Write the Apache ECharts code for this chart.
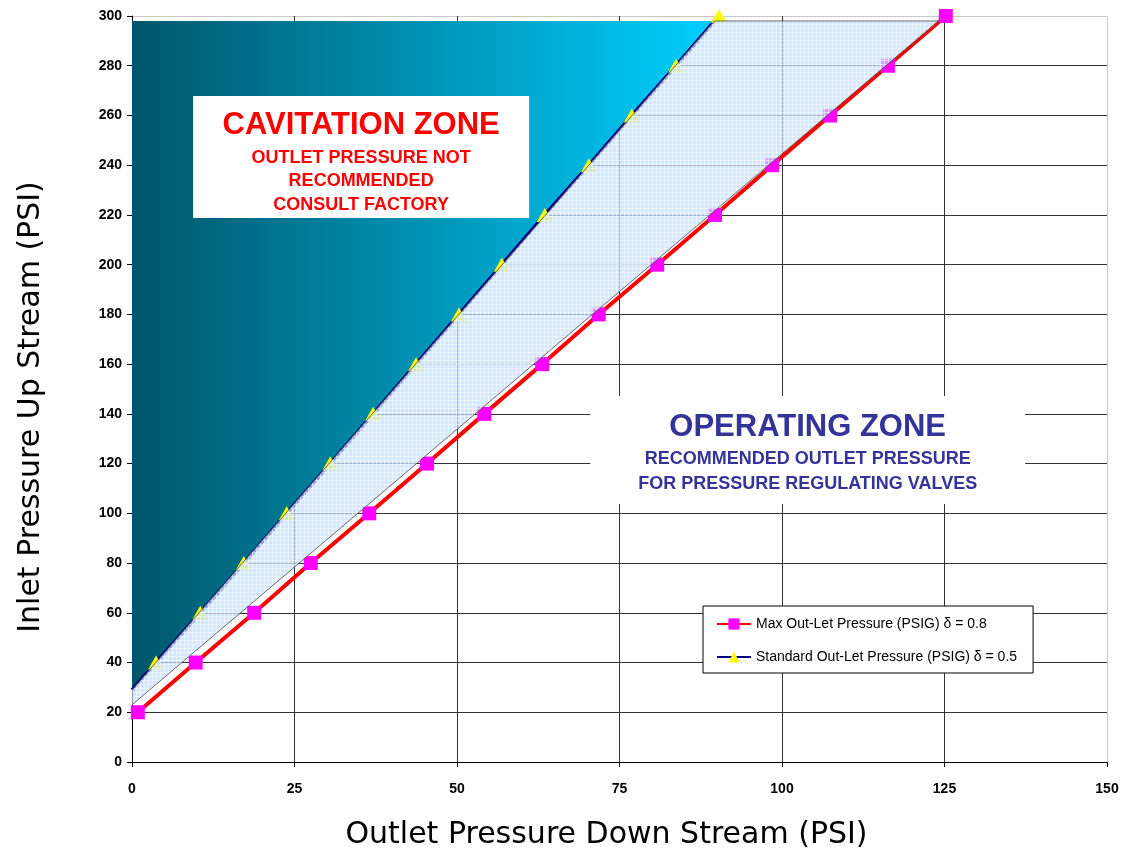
<!DOCTYPE html>
<html>
<head>
<meta charset="utf-8">
<script src="https://cdn.jsdelivr.net/npm/echarts@6/dist/echarts.min.js"></script>
<style>html,body{margin:0;padding:0;background:#fff}#c{width:1124px;height:849px}</style>
</head>
<body>
<div id="c"></div>
<script>
// ---- data ----
var maxOutlet = [[0.9,20],[9.8,40],[18.8,60],[27.5,80],[36.5,100],[45.4,120],[54.2,140],[63.1,160],[71.8,180],[80.8,200],[89.7,220],[98.5,240],[107.4,260],[116.3,280],[125.2,300]];
var stdStart = [0,29];
var stdOutlet = [[3.7,40],[10.5,60],[17.2,80],[23.8,100],[30.5,120],[37.1,140],[43.7,160],[50.3,180],[56.9,200],[63.5,220],[70.3,240],[76.9,260],[83.7,280],[90.3,300]];
var cavitationZone = [[0,29],[0,298],[89.6,298]];
var operatingZone = [[0,29],[89.6,298],[124.1,298],[0,23]];
var cavitationBox = [9.4,267.8,61.1,218.8];
var operatingBox = [70.5,147.2,137.4,103.8];
var cavitationText = ['CAVITATION ZONE','OUTLET PRESSURE NOT','RECOMMENDED','CONSULT FACTORY'];
var operatingText = ['OPERATING ZONE','RECOMMENDED OUTLET PRESSURE','FOR PRESSURE REGULATING VALVES'];
var seriesNames = ['Max Out-Let Pressure (PSIG) \u03b4 = 0.8','Standard Out-Let Pressure (PSIG) \u03b4 = 0.5'];

// pattern for operating zone
var pc = document.createElement('canvas');
pc.width = 4; pc.height = 4;
var pctx = pc.getContext('2d');
pctx.fillStyle = 'rgba(195,222,255,0.72)';
pctx.fillRect(0,0,4,4);
pctx.fillStyle = 'rgba(255,255,255,0.5)';
pctx.fillRect(0,0,4,1);
pctx.fillRect(0,0,1,4);

var chart = echarts.init(document.getElementById('c'));

function polySeries(verts, style, z){
  return {
    type:'custom', z:z, silent:true, clip:true,
    data:[[verts[0][0],verts[0][1]]],
    renderItem:function(params, api){
      var pts = verts.map(function(v){return api.coord(v);});
      return {type:'polygon', shape:{points:pts}, style:style};
    }
  };
}
function boxSeries(box, lines, color, offsets, sizes, z){
  return {
    type:'custom', z:z, silent:true,
    data:[box],
    renderItem:function(params, api){
      var p0 = api.coord([api.value(0), api.value(1)]);
      var p1 = api.coord([api.value(2), api.value(3)]);
      var cx = (p0[0]+p1[0])/2, cy = (p0[1]+p1[1])/2;
      var children = [{type:'rect', shape:{x:p0[0], y:p0[1], width:p1[0]-p0[0], height:p1[1]-p0[1]}, style:{fill:'#fff'}}];
      lines.forEach(function(t,i){
        children.push({type:'text', style:{text:t, x:cx, y:cy+offsets[i], align:'center', verticalAlign:'middle', fill:color, font:'bold '+sizes[i]+'px "Liberation Sans", Arial, sans-serif'}});
      });
      return {type:'group', children:children};
    }
  };
}

var stdData = [{value:stdStart, symbol:'none'}].concat(stdOutlet);

chart.setOption({
  animation:false,
  grid:{left:132, right:17, top:16, bottom:87, outerBoundsMode:'none', containLabel:false},
  legend:{
    orient:'vertical', left:703, top:606,
    backgroundColor:'#fff', borderColor:'#000', borderWidth:1, borderRadius:0,
    padding:[11,16,9,13], itemGap:19, itemWidth:34, itemHeight:14,
    textStyle:{fontFamily:'"Liberation Sans", Arial, sans-serif', fontSize:14, color:'#000'},
    data:seriesNames
  },
  xAxis:{
    type:'value', min:0, max:150, interval:25,
    axisLine:{lineStyle:{color:'#000', width:1}},
    axisTick:{show:true, length:5, lineStyle:{color:'#000'}},
    axisLabel:{fontFamily:'"Liberation Sans", Arial, sans-serif', fontWeight:'bold', fontSize:14, color:'#000', margin:20},
    splitLine:{show:true, lineStyle:{color:['#333','#333','#333','#333','#333','#333','#c8c8c8'], width:1}},
    name:'Outlet Pressure Down Stream (PSI)', nameLocation:'middle', nameGap:58,
    nameTextStyle:{fontFamily:'"DejaVu Sans", Verdana, sans-serif', fontSize:30, color:'#000', padding:[0,26,0,0]}
  },
  yAxis:{
    type:'value', min:0, max:300, interval:20,
    axisLine:{show:true, lineStyle:{color:'#000', width:1}},
    axisTick:{show:true, length:5, lineStyle:{color:'#000'}},
    axisLabel:{fontFamily:'"Liberation Sans", Arial, sans-serif', fontWeight:'bold', fontSize:14, color:'#000', margin:10},
    splitLine:{show:true, lineStyle:{color:['#333','#333','#333','#333','#333','#333','#333','#333','#333','#333','#333','#333','#333','#333','#333','#c8c8c8'], width:1}},
    name:'Inlet Pressure Up Stream (PSI)', nameLocation:'middle', nameGap:86,
    nameTextStyle:{fontFamily:'"DejaVu Sans", Verdana, sans-serif', fontSize:30, color:'#000', padding:[0,36,0,0]}
  },
  series:[
    polySeries(cavitationZone, {fill:new echarts.graphic.LinearGradient(0,0,1,0,[{offset:0,color:'#00566a'},{offset:1,color:'#00cfff'}])}, 2),
    {
      name:seriesNames[0], type:'line', z:3, data:maxOutlet,
      symbol:'rect', symbolSize:14, showAllSymbol:true,
      lineStyle:{color:'#ff0000', width:4},
      itemStyle:{color:'#ff00ff', borderWidth:0}
    },
    {
      name:seriesNames[1], type:'line', z:3, data:stdData,
      symbol:'triangle', symbolSize:[16,14], showAllSymbol:true,
      lineStyle:{color:'#000080', width:3.5},
      itemStyle:{color:'#ffff00', borderWidth:0}
    },
    polySeries(operatingZone, {fill:{image:pc, repeat:'repeat'}, stroke:'#444', lineWidth:0.8}, 4),
    boxSeries(cavitationBox, cavitationText, '#ff0000', [-32,1,24,48], [31,18,18,18], 5),
    boxSeries(operatingBox, operatingText, '#333399', [-22,9,34], [31,18,18], 5)
  ]
});
</script>
</body>
</html>
